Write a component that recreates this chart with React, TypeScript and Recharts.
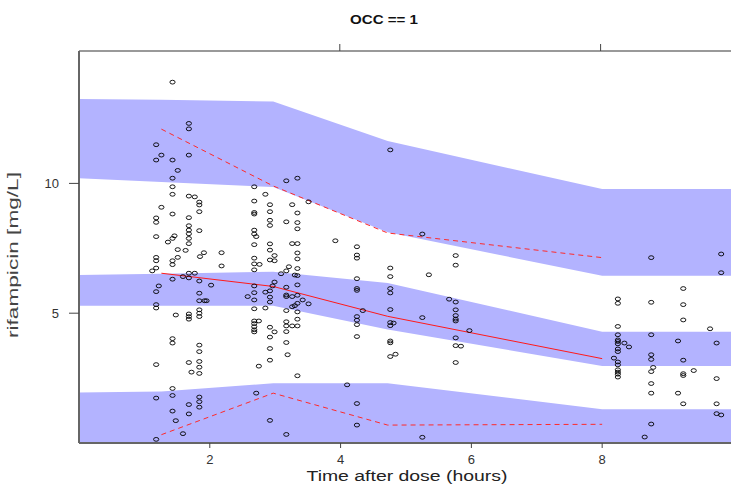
import {
  ComposedChart,
  Area,
  Line,
  Scatter,
  XAxis,
  YAxis,
} from "recharts";

// bin edges for the simulated bands (hours)
const bandTime = [0, 1.26, 2.97, 4.72, 8, 9.97];
const upperBandHi = [13.25, 13.22, 13.15, 11.63, 9.78, 9.78];
const upperBandLo = [10.2, 10.05, 9.86, 8.12, 6.44, 6.44];
const medianBandHi = [6.47, 6.52, 6.6, 6.16, 4.29, 4.29];
const medianBandLo = [5.29, 5.29, 5.29, 4.37, 2.97, 2.97];
const lowerBandHi = [1.95, 1.98, 2.3, 2.3, 1.3, 1.3];
const lowerBandLo = [0, 0, 0, 0, 0, 0];

// observed percentiles at bin midpoints
const binTime = [1.26, 2.97, 4.72, 8];
const obsP95 = [12.09, 9.9, 8.09, 7.14];
const obsMedian = [6.54, 6.03, 4.88, 3.25];
const obsP5 = [0.32, 1.92, 0.69, 0.72];

const xTicks = [2, 4, 6, 8];
const yTicks = [5, 10];

// observations [time, conc]
const obsEarly = [
  [1.43, 13.9], [1.68, 12.31], [1.68, 12.1], [1.18, 11.49], [1.26, 11.09], [1.18, 10.9],
  [1.43, 10.9], [1.68, 11.09], [1.51, 10.5], [1.43, 10.2], [1.43, 9.87], [1.43, 9.58],
  [1.68, 9.51], [1.77, 9.48], [1.84, 9.28], [1.84, 9.17], [1.84, 8.91], [1.26, 9.08],
  [1.43, 8.82], [1.18, 8.67], [1.18, 8.5], [1.68, 8.68], [1.68, 8.37], [1.68, 8.2],
  [1.68, 8.06], [1.68, 7.88], [1.68, 7.68], [1.84, 8.18], [1.18, 7.95], [1.46, 7.98],
  [1.43, 7.88], [1.36, 7.74], [1.51, 7.45], [1.63, 7.42], [1.91, 7.33], [1.85, 7.18],
  [2.18, 7.33], [2.18, 6.82], [1.18, 7.15], [1.18, 7.02], [1.43, 7.02], [1.43, 6.87],
  [1.51, 7.15], [1.18, 6.74], [1.12, 6.63], [1.68, 6.54], [1.77, 6.54], [1.59, 6.41],
  [1.68, 6.36], [1.43, 6.31], [1.84, 6.24], [2.02, 6.08], [1.22, 6.05], [1.18, 5.83],
  [1.84, 5.77], [1.84, 5.48], [1.92, 5.48], [1.95, 5.48], [1.84, 5.13], [1.84, 5.0],
  [1.18, 5.33], [1.18, 5.2], [1.48, 4.93], [1.68, 4.97], [1.68, 4.87], [1.68, 4.77],
  [1.84, 4.87], [1.43, 4.02], [1.43, 3.85], [1.84, 3.77], [1.84, 3.52], [1.18, 3.02],
  [1.68, 3.1], [1.72, 2.73], [1.84, 3.14], [1.84, 2.92], [1.84, 2.68], [1.43, 2.1],
  [1.43, 1.83], [1.18, 1.73], [1.84, 1.77], [1.84, 1.59], [1.84, 1.38], [1.68, 1.48],
  [1.43, 1.23], [1.68, 1.12], [1.48, 0.86], [1.59, 0.36], [1.18, 0.14],
];

const obsMid = [
  [3.17, 10.1], [3.34, 10.2], [2.68, 9.87], [2.85, 9.58], [2.68, 9.32], [2.92, 9.18],
  [3.26, 9.18], [3.51, 9.29], [2.68, 8.88], [2.68, 8.82], [2.92, 8.91], [3.34, 8.86],
  [2.92, 8.58], [2.92, 8.38], [3.17, 8.52], [3.34, 8.49], [3.34, 8.25], [2.68, 8.2],
  [2.68, 8.05], [2.71, 7.95], [2.68, 7.64], [2.92, 7.67], [2.92, 7.43], [2.92, 7.05],
  [2.99, 7.22], [2.99, 7.02], [3.26, 7.68], [3.34, 7.68], [3.34, 7.32], [3.34, 7.09],
  [2.68, 7.12], [2.68, 6.9], [2.76, 6.88], [2.68, 6.67], [3.21, 6.79], [3.17, 6.63],
  [3.09, 6.52], [3.34, 6.72], [3.3, 6.47], [3.34, 6.45], [3.34, 6.09], [2.99, 6.2],
  [2.96, 6.05], [2.68, 6.05], [2.68, 5.79], [2.58, 5.64], [2.85, 5.81], [2.92, 5.86],
  [2.92, 5.62], [2.92, 5.43], [2.68, 5.51], [3.17, 6.0], [3.17, 5.7], [3.17, 5.64],
  [3.26, 5.64], [3.34, 5.69], [3.42, 5.51], [3.51, 5.36], [3.34, 5.38], [3.3, 5.29],
  [3.26, 5.25], [2.68, 5.17], [2.85, 5.2], [3.17, 5.1], [3.34, 5.05], [3.34, 4.77],
  [3.34, 4.51], [2.68, 4.7], [2.75, 4.7], [2.68, 4.6], [2.68, 4.48], [2.68, 4.36],
  [2.68, 4.28], [3.17, 4.67], [3.17, 4.51], [3.17, 4.29], [3.26, 4.51], [2.92, 4.46],
  [2.99, 4.28], [2.92, 4.08], [3.17, 3.87], [2.92, 3.64], [3.19, 3.4], [2.92, 3.19],
  [2.75, 2.96], [3.34, 2.59], [2.71, 1.92], [2.92, 0.87], [3.17, 0.33],
];

const obsLate = [
  [4.76, 11.29], [5.25, 8.05], [3.92, 7.79], [4.25, 7.56], [4.25, 7.24], [4.25, 7.12],
  [5.76, 7.22], [5.76, 6.85], [4.76, 6.74], [4.76, 6.41], [5.35, 6.48], [4.25, 6.33],
  [4.25, 5.95], [4.25, 5.88], [4.76, 5.95], [4.76, 5.78], [5.66, 5.54], [5.76, 5.43],
  [5.76, 5.13], [5.76, 4.91], [5.76, 4.77], [5.76, 4.7], [4.34, 5.1], [4.76, 5.14],
  [5.25, 4.83], [4.25, 4.87], [4.25, 4.73], [4.25, 4.56], [4.76, 4.64], [4.81, 4.62],
  [4.76, 4.52], [5.97, 4.33], [4.25, 4.1], [5.76, 4.05], [4.76, 3.93], [4.76, 3.86],
  [5.76, 3.75], [5.84, 3.73], [4.84, 3.42], [4.76, 3.33], [5.76, 3.1], [4.1, 2.24],
  [4.25, 1.52], [4.25, 0.69], [5.25, 0.22],
];

const obsTrough = [
  [8.75, 7.14], [9.82, 7.28], [9.82, 6.56], [9.24, 5.95], [8.24, 5.55], [8.24, 5.38],
  [8.75, 5.42], [9.24, 5.33], [9.24, 4.74], [9.65, 4.4], [8.24, 4.49], [8.24, 4.17],
  [8.75, 4.17], [8.24, 3.97], [8.24, 3.91], [8.24, 3.82], [8.34, 3.85], [8.41, 3.7],
  [9.16, 3.93], [9.75, 3.85], [8.24, 3.62], [8.24, 3.52], [8.75, 3.4], [8.75, 3.22],
  [9.24, 3.19], [8.18, 3.27], [8.24, 3.12], [8.24, 3.01], [8.24, 2.82], [8.24, 2.73],
  [8.24, 2.65], [8.24, 2.54], [8.78, 2.91], [8.75, 2.75], [9.24, 2.67], [9.24, 2.6],
  [9.4, 2.79], [9.75, 2.48], [8.75, 2.29], [8.75, 1.92], [9.16, 1.92], [9.24, 1.51],
  [9.75, 1.51], [9.75, 1.13], [9.82, 1.08], [8.75, 0.73], [8.65, 0.23],
];

const bandData = bandTime.map((t, i) => {
  const j = binTime.indexOf(t);
  return {
    t,
    upper: [upperBandLo[i], upperBandHi[i]],
    median: [medianBandLo[i], medianBandHi[i]],
    lower: [lowerBandLo[i], lowerBandHi[i]],
    p95: j >= 0 ? obsP95[j] : null,
    med: j >= 0 ? obsMedian[j] : null,
    p5: j >= 0 ? obsP5[j] : null,
  };
});

const points = [...obsEarly, ...obsMid, ...obsLate, ...obsTrough].map(([t, c]) => ({ t, c }));

const BAND = "#b3b3ff";
const FONT = "'Liberation Sans', Arial, sans-serif";

const Ring = (props: any) => (
  <ellipse cx={props.cx} cy={props.cy} rx={2.6} ry={1.9} fill="none" stroke="#000" strokeWidth={0.9} />
);

export default function App() {
  return (
    <div style={{ position: "absolute", left: 0, top: 0, width: 731, height: 485, background: "#fff" }}>
      <ComposedChart
        width={731}
        height={485}
        data={bandData}
        margin={{ top: 41, right: 0, bottom: 0, left: 0 }}
      >
        <XAxis
          type="number"
          dataKey="t"
          domain={[0, 9.97]}
          ticks={xTicks}
          allowDataOverflow
          height={42}
          tickSize={5}
          tickMargin={7}
          axisLine={{ stroke: "#666", strokeWidth: 2 }}
          tickLine={{ stroke: "#444" }}
          tick={{ fill: "#333", fontSize: 13, fontFamily: FONT }}
        />
        <XAxis
          xAxisId="top"
          orientation="top"
          type="number"
          domain={[0, 9.97]}
          ticks={xTicks}
          allowDataOverflow
          height={10}
          tickSize={7}
          axisLine={{ stroke: "#777", strokeWidth: 1.5 }}
          tickLine={{ stroke: "#444" }}
          tick={() => <g />}
        />
        <YAxis
          type="number"
          domain={[0, 15.1]}
          ticks={yTicks}
          allowDataOverflow
          width={79}
          tickSize={10}
          tickMargin={10}
          axisLine={{ stroke: "#666", strokeWidth: 2 }}
          tickLine={{ stroke: "#444" }}
          tick={{ fill: "#333", fontSize: 13, fontFamily: FONT }}
        />
        <Area type="linear" dataKey="upper" stroke="none" fill={BAND} fillOpacity={1} isAnimationActive={false} />
        <Area type="linear" dataKey="median" stroke="none" fill={BAND} fillOpacity={1} isAnimationActive={false} />
        <Area type="linear" dataKey="lower" stroke="none" fill={BAND} fillOpacity={1} isAnimationActive={false} />
        <Line type="linear" dataKey="p95" stroke="#ff2a2a" strokeWidth={1} strokeDasharray="5 4" dot={false} activeDot={false} isAnimationActive={false} />
        <Line type="linear" dataKey="med" stroke="#ff1a1a" strokeWidth={1} dot={false} activeDot={false} isAnimationActive={false} />
        <Line type="linear" dataKey="p5" stroke="#ff2a2a" strokeWidth={1} strokeDasharray="5 4" dot={false} activeDot={false} isAnimationActive={false} />
        <Scatter data={points} dataKey="c" shape={Ring} isAnimationActive={false} />
      </ComposedChart>
      <svg
        width={731}
        height={485}
        style={{ position: "absolute", left: 0, top: 0, pointerEvents: "none" }}
        fontFamily={FONT}
      >
        <text x={384} y={24} textAnchor="middle" fontSize={13} fontWeight="bold" fill="#111" textLength={68} lengthAdjust="spacingAndGlyphs">
          OCC == 1
        </text>
        <text x={407} y={481} textAnchor="middle" fontSize={14} fill="#222" textLength={201} lengthAdjust="spacingAndGlyphs">
          Time after dose (hours)
        </text>
        <text x={18} y={255} textAnchor="middle" fontSize={14} fill="#444" transform="rotate(-90 18 255)" textLength={166} lengthAdjust="spacingAndGlyphs">
          rifampicin [mg/L]
        </text>
      </svg>
    </div>
  );
}
